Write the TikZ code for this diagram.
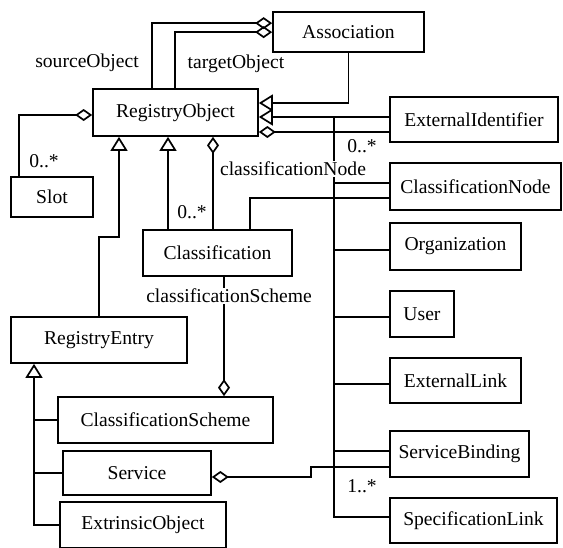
\documentclass[tikz,border=0pt]{standalone}
\usepackage{fontspec}
\setmainfont{Liberation Serif}
\usetikzlibrary{arrows.meta}

\begin{document}
\begin{tikzpicture}[x=1pt,y=-1pt,
    cls/.style={draw,line width=1.7pt,minimum height=46pt,inner sep=0pt,font=\fontsize{19.6}{22}\selectfont},
    lbl/.style={inner sep=1pt,font=\fontsize{19.6}{22}\selectfont},
    conn/.style={line width=1.7pt},
    agg/.style={conn,{Diamond[open,length=17pt,width=12pt]}-},
    inh/.style={conn,{Triangle[open,length=14pt,width=17pt]}-}]
    \useasboundingbox (0,0) rectangle (563,547);

    % classes
    \node[cls,minimum width=151pt,minimum height=40pt] (assoc) at (348.5,32) {Association};
    \node[cls,minimum width=165pt,minimum height=47pt] (ro) at (175.5,112.5) {RegistryObject};
    \node[cls,minimum width=82pt,minimum height=40pt] (slot) at (52,197) {Slot};
    \node[cls,minimum width=168pt,minimum height=45pt] (extid) at (474,119.5) {ExternalIdentifier};
    \node[cls,minimum width=171pt,minimum height=47pt] (cnode) at (475.5,186.5) {ClassificationNode};
    \node[cls,minimum width=149pt] (classif) at (217.5,253) {Classification};
    \node[cls,minimum width=131pt,minimum height=47pt] (org) at (455.5,246.5) {Organization};
    \node[cls,minimum width=64pt] (user) at (422,314) {User};
    \node[cls,minimum width=131pt,minimum height=45pt] (extlink) at (455.5,380.5) {ExternalLink};
    \node[cls,minimum width=139pt] (sbind) at (459.5,454) {ServiceBinding};
    \node[cls,minimum width=167pt,minimum height=45pt] (speclink) at (473.5,520.5) {SpecificationLink};
    \node[cls,minimum width=176pt] (regentry) at (99,340) {RegistryEntry};
    \node[cls,minimum width=215pt] (cscheme) at (165.5,420) {ClassificationScheme};
    \node[cls,minimum width=148pt,minimum height=44pt] (service) at (137,473) {Service};
    \node[cls,minimum width=166pt] (extobj) at (143,525) {ExtrinsicObject};

    % association ends
    \draw[agg] ([yshift=-12pt]assoc.north west) -| ([xshift=60pt]ro.north west);
    \draw[agg] ([yshift=-21pt]assoc.north west) -| ([xshift=83pt]ro.north west);
    \draw[inh] ([yshift=9.5pt]ro.east) -| (assoc.south);
    \draw[agg] ([yshift=-2.5pt]ro.west) -| ([xshift=-33pt]slot.north);
    \draw[agg] ([yshift=-19.5pt]ro.east) -- ([yshift=-19.5pt]ro.east -| extid.west);

    % subclasses on the right
    \coordinate (bus) at ([xshift=75pt,yshift=-4.5pt]ro.east);
    \draw[inh] ([yshift=-4.5pt]ro.east) -- (bus -| extid.west);
    \draw[conn] (bus) |- ([yshift=3.5pt]speclink.west);
    \draw[conn] (bus |- 0,183) -- ([yshift=3.5pt]cnode.west);
    \draw[conn] (bus |- 0,250) -- ([yshift=-3.5pt]org.west);
    \draw[conn] (bus |- 0,317) -- ([yshift=-3pt]user.west);
    \draw[conn] (bus |- 0,384) -- ([yshift=-3.5pt]extlink.west);
    \draw[conn] (bus |- 0,451) -- ([yshift=3pt]sbind.west);

    % subclasses below
    \draw[inh] ([xshift=-56.5pt]ro.south) -- ++(0,100) -| (regentry.north);
    \draw[inh] ([xshift=-7.5pt]ro.south) -- ([xshift=-7.5pt]ro.south |- classif.north);
    \draw[agg] ([xshift=37.5pt]ro.south) -- ([xshift=37.5pt]ro.south |- classif.north);
    \draw[conn] ([xshift=32.5pt]classif.north) |- ([yshift=-11.5pt]cnode.west);
    \draw[agg] ([xshift=6.5pt]classif.south |- cscheme.north) -- ([xshift=6.5pt]classif.south);
    \draw[inh] ([xshift=-65pt]regentry.south) |- (extobj.west);
    \draw[conn] ([xshift=-65pt]regentry.south |- cscheme.west) -- (cscheme.west);
    \draw[conn] ([xshift=-65pt]regentry.south |- service.west) -- (service.west);
    \draw[agg] ([yshift=-4pt]service.east) -- ++(99,0) |- ([yshift=-13pt]sbind.west);

    % role names and multiplicities
    \node[lbl] (srcname) at (87,63) {sourceObject};
    \node[lbl] (tgtname) at (236,64) {targetObject};
    \node[lbl] (slotmult) at (44,161) {0..*};
    \node[lbl] (classmult) at (192,212) {0..*};
    \node[lbl,fill=white] (cnodename) at (293,169) {classificationNode};
    \node[lbl] (extidmult) at (362,146) {0..*};
    \node[lbl,fill=white] (cschemename) at (229,296) {classificationScheme};
    \node[lbl] (sbindmult) at (362,486) {1..*};
\end{tikzpicture}
\end{document}
